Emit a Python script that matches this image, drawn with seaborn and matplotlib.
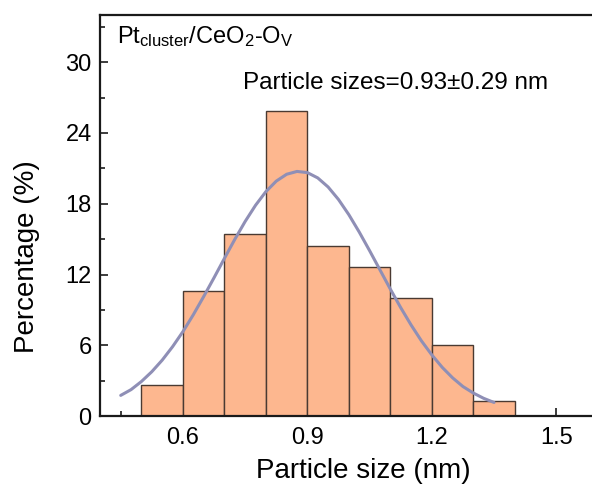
import numpy as np
import pandas as pd
import matplotlib
matplotlib.use("Agg")
import matplotlib.pyplot as plt
from matplotlib.ticker import MultipleLocator
import seaborn as sns

# Histogram: bin centres (nm) and percentage in each 0.1 nm bin
bin_centers = [0.55, 0.65, 0.75, 0.85, 0.95, 1.05, 1.15, 1.25, 1.35]
percentages = [2.6, 10.6, 15.4, 25.9, 14.4, 12.6, 10.0, 6.0, 1.3]

# Gaussian fit curve
fit_x = [0.450, 0.475, 0.500, 0.525, 0.550, 0.575, 0.600, 0.625, 0.650,
         0.675, 0.700, 0.725, 0.750, 0.775, 0.800, 0.825, 0.850, 0.875,
         0.900, 0.925, 0.950, 0.975, 1.000, 1.025, 1.050, 1.075, 1.100,
         1.125, 1.150, 1.175, 1.200, 1.225, 1.250, 1.275, 1.300, 1.325,
         1.350]
fit_y = [1.75, 2.24, 2.93, 3.76, 4.74, 5.88, 7.16, 8.59, 10.13,
         11.73, 13.37, 14.98, 16.50, 17.87, 19.03, 19.92, 20.50, 20.74,
         20.64, 20.19, 19.42, 18.36, 17.07, 15.60, 14.02, 12.39, 10.76,
         9.19, 7.72, 6.37, 5.18, 4.13, 3.24, 2.50, 1.95, 1.50,
         1.15]

x_ticks = [0.6, 0.9, 1.2, 1.5]
y_ticks = [0, 6, 12, 18, 24, 30]

sample_label = r"Pt$_{\rm cluster}$/CeO$_2$-O$_{\rm V}$"
size_label = "Particle sizes=0.93\u00b10.29 nm"

sns.set_theme(style="ticks")
plt.rcParams["font.family"] = ["Liberation Sans", "DejaVu Sans"]
plt.rcParams["mathtext.fontset"] = "custom"
plt.rcParams["mathtext.rm"] = "Liberation Sans"
plt.rcParams["mathtext.it"] = "Liberation Sans:italic"
plt.rcParams["text.color"] = "black"
plt.rcParams["axes.labelcolor"] = "black"

hist_df = pd.DataFrame({"size": bin_centers, "pct": percentages})
fit_df = pd.DataFrame({"size": fit_x, "pct": fit_y})

fig = plt.figure(figsize=(5.92, 4.86), dpi=100)
ax = fig.add_axes([0.1689, 0.144, 0.8408, 0.825])

sns.histplot(data=hist_df, x="size", weights="pct", binwidth=0.1,
             binrange=(0.5, 1.4), color="#FDB78F", edgecolor="#4a3a32",
             linewidth=1.0, alpha=1.0, ax=ax)
sns.lineplot(data=fit_df, x="size", y="pct", color="#8F8FB6",
             linewidth=2.2, ax=ax)

ax.set_xlim(0.4, 1.6)
ax.set_ylim(0, 34)
ax.set_xticks(x_ticks)
ax.set_xticklabels([f"{t:.1f}" for t in x_ticks])
ax.set_yticks(y_ticks)
ax.set_yticklabels([str(t) for t in y_ticks])
ax.xaxis.set_minor_locator(MultipleLocator(0.15))
ax.yaxis.set_minor_locator(MultipleLocator(3))

ax.tick_params(which="both", direction="in", width=1.2, colors="#1a1a1a",
               labelcolor="black")
ax.tick_params(which="major", length=6, labelsize=17)
ax.tick_params(axis="x", which="major", pad=8)
ax.tick_params(axis="y", which="major", pad=6)
ax.tick_params(which="minor", length=3.5)
ax.tick_params(top=False, right=False, which="both")

for side in ["left", "bottom", "top"]:
    ax.spines[side].set_linewidth(1.6)
    ax.spines[side].set_color("#1a1a1a")
ax.spines["right"].set_visible(False)

ax.set_xlabel("Particle size (nm)", fontsize=20)
ax.set_ylabel("Percentage (%)", fontsize=20)
ax.xaxis.set_label_coords(0.53, -0.105)
ax.yaxis.set_label_coords(-0.12, 0.397)

ax.text(0.44, 31.6, sample_label, fontsize=17, ha="left", va="baseline")
ax.text(0.745, 27.7, size_label, fontsize=17.5, ha="left", va="baseline")

fig.savefig("out.png", dpi=100)
